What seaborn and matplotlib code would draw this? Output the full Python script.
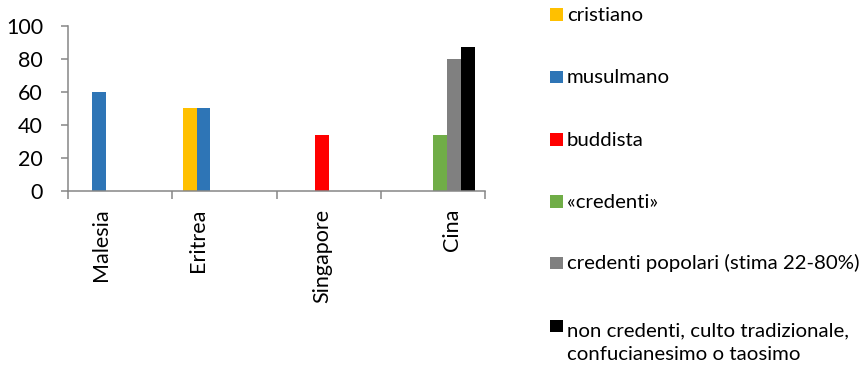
import matplotlib
matplotlib.use("Agg")
import matplotlib.pyplot as plt
import matplotlib.transforms as mtransforms
from matplotlib.patches import Rectangle
import pandas as pd
import seaborn as sns

# --- data -------------------------------------------------------------
countries = ["Malesia", "Eritrea", "Singapore", "Cina"]
religions = [
    "cristiano",
    "musulmano",
    "buddista",
    "«credenti»",
    "credenti popolari (stima 22-80%)",
    "non credenti, culto tradizionale,\nconfucianesimo o taosimo",
]
cristiano = [None, 50, None, None]
musulmano = [60, 50, None, None]
buddista = [None, None, 34, None]
credenti = [None, None, None, 34]
credenti_popolari = [None, None, None, 80]
non_credenti = [None, None, None, 87]
y_ticks = [0, 20, 40, 60, 80, 100]

colors = ["#FFC000", "#2E75B6", "#FF0000", "#70AD47", "#808080", "#000000"]

series = [cristiano, musulmano, buddista, credenti, credenti_popolari, non_credenti]
rows = [
    (country, religion, value)
    for religion, values in zip(religions, series)
    for country, value in zip(countries, values)
    if value is not None
]
df = pd.DataFrame(rows, columns=["paese", "religione", "percentuale"])

# --- style ------------------------------------------------------------
sns.set_style("white")
plt.rcParams["font.family"] = ["Lato", "DejaVu Sans"]
TEXT = "#000000"
AXIS = "#868686"
TICK_FS = 15.5
LEGEND_FS = 14.7

W, H, DPI = 866, 366, 100
fig = plt.figure(figsize=(W / DPI, H / DPI), dpi=DPI)
ax = fig.add_axes([68 / W, 1 - 190.7 / H, (485 - 68) / W, (190.7 - 25.7) / H])

sns.barplot(
    data=df, x="paese", y="percentuale", hue="religione",
    order=countries, hue_order=religions, palette=colors,
    saturation=1, errorbar=None, width=0.8, linewidth=0,
    legend=False, ax=ax,
)

ax.set_xlim(-0.5, len(countries) - 0.5)
ax.set_ylim(0, 100)
ax.set_xlabel("")
ax.set_ylabel("")

for side in ("top", "right"):
    ax.spines[side].set_visible(False)
for side in ("left", "bottom"):
    ax.spines[side].set_color(AXIS)
    ax.spines[side].set_linewidth(1.1)

# y axis: outward ticks, labels well to the left
ax.set_yticks(y_ticks)
ax.set_yticklabels([str(v) for v in y_ticks])
ax.tick_params(axis="y", which="major", direction="out", length=5, width=1.1,
               color=AXIS, pad=13, labelsize=TICK_FS, labelcolor=TEXT, left=True)

# x axis: tick marks between categories, rotated category names
ax.set_xticks([i - 0.5 for i in range(len(countries) + 1)], minor=True)
ax.set_xticks(range(len(countries)))
ax.set_xticklabels(countries, rotation=90, va="top", ha="center")
ax.tick_params(axis="x", which="major", length=0, pad=13,
               labelsize=TICK_FS, labelcolor=TEXT)
ax.tick_params(axis="x", which="minor", direction="out", length=5.8, width=1.1,
               color=AXIS, bottom=True)

label_shift_px = [-19, -26, -6, 19]
for lab, dx in zip(ax.get_xticklabels(), label_shift_px):
    lab.set_transform(lab.get_transform()
                      + mtransforms.ScaledTranslation(dx / DPI, 0, fig.dpi_scale_trans))

# --- legend (drawn in figure pixels) ----------------------------------
legend_baselines = [20.7, 83.3, 145.7, 207.7, 269.3, 332.3]
line_pitch_px = 27.7
for name, color, base in zip(religions, colors, legend_baselines):
    fig.patches.append(Rectangle((550 / W, 1 - base / H), 13 / W, 12.4 / H,
                                 transform=fig.transFigure, facecolor=color,
                                 edgecolor="none"))
    n_extra = name.count("\n")
    last_base = base + n_extra * line_pitch_px
    fig.text(567 / W, 1 - last_base / H, name, fontsize=LEGEND_FS, color=TEXT,
             ha="left", va="baseline", linespacing=1.5)

fig.savefig("out.png", dpi=DPI, facecolor="white")
